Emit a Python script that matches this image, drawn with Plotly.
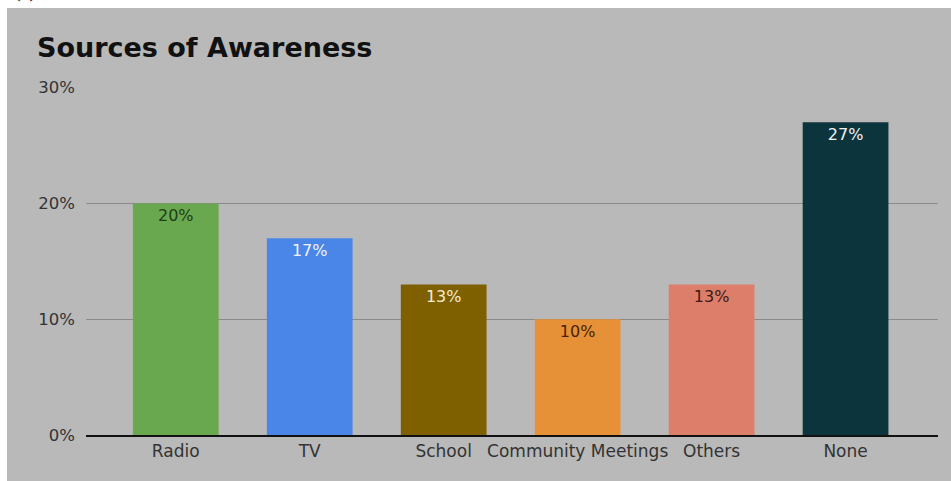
import plotly.graph_objects as go

# Share of respondents by source of awareness (%)
categories = ["Radio", "TV", "School", "Community Meetings", "Others", "None"]
values = [20, 17, 13, 10, 13, 27]
bar_colors = ["#6aa84f", "#4a86e8", "#7f6000", "#e69138", "#dd7e6b", "#0c343d"]
label_colors = ["#1f3d17", "#f2f2f2", "#f3ecd0", "#4a1f05", "#3d1a12", "#f2f2f2"]
y_ticks = [0, 10, 20, 30]
y_tick_text = ["0%", "10%", "20%", "30%"]

W, H = 951, 481
ML, MR, MT, MB = 86, 13, 87, 46
PW, PH = W - ML - MR, H - MT - MB
panel_bg = "#b9b9b9"
sans = "DejaVu Sans, Verdana, sans-serif"

fig = go.Figure()
fig.add_bar(
    x=list(range(len(categories))),
    y=values,
    marker=dict(color=bar_colors, line=dict(width=0)),
    width=0.64,
    text=[f"{v}%" for v in values],
    textposition="inside",
    insidetextanchor="end",
    textangle=0,
    textfont=dict(family=sans, size=16, color=label_colors),
    hoverinfo="skip",
)

fig.update_layout(
    width=W,
    height=H,
    paper_bgcolor="white",
    plot_bgcolor=panel_bg,
    margin=dict(l=ML, r=MR, t=MT, b=MB, pad=0),
    showlegend=False,
    font=dict(family=sans, color="#333333"),
    title=dict(
        text="<b>Sources of Awareness</b>",
        x=37 / W, xanchor="left",
        y=1 - 47.5 / H, yanchor="middle",
        xref="container", yref="container",
        font=dict(family=sans, size=27, color="#111111"),
    ),
    shapes=[
        # grey panel behind the whole chart
        dict(type="rect", xref="paper", yref="paper",
             x0=(7 - ML) / PW, x1=1 + MR / PW,
             y0=-MB / PH, y1=1 + (MT - 8) / PH,
             fillcolor=panel_bg, line=dict(width=0), layer="below"),
    ],
    annotations=[
        dict(text="(a)", xref="paper", yref="paper",
             x=(12 - ML) / PW, y=1 + (MT + 10) / PH,
             xanchor="left", yanchor="middle", showarrow=False,
             font=dict(family="Liberation Serif, Times New Roman", size=20, color="#000000")),
    ],
)

fig.update_xaxes(
    tickmode="array",
    tickvals=list(range(len(categories))),
    ticktext=categories,
    range=[-0.67, 5.69],
    showgrid=False,
    showline=True,
    linecolor="#111111",
    linewidth=1.5,
    ticks="",
    ticklabelstandoff=0,
    tickfont=dict(family=sans, size=17, color="#333333"),
    zeroline=False,
)

fig.update_yaxes(
    tickmode="array",
    tickvals=y_ticks,
    ticktext=y_tick_text,
    range=[0, 30.05],
    showgrid=True,
    gridcolor="#8a8a8a",
    gridwidth=1,
    showline=False,
    zeroline=False,
    ticks="",
    ticklabelstandoff=10,
    tickfont=dict(family=sans, size=16.5, color="#333333"),
)

fig.write_html("out.html")
